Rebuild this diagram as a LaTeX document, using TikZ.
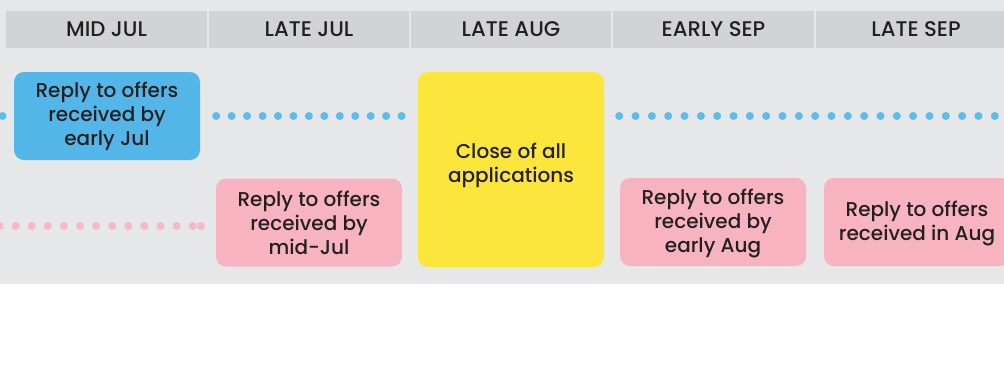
\documentclass[tikz,border=0pt]{standalone}
\usepackage{fontspec}
\setmainfont{Poppins Medium}
\definecolor{bg}{HTML}{E6E7E8}
\definecolor{hdr}{HTML}{D1D3D4}
\definecolor{ink}{HTML}{231F20}
\definecolor{bluebox}{HTML}{52B7E8}
\definecolor{bluedot}{HTML}{5BBDEB}
\definecolor{pinkbox}{HTML}{F8B3C1}
\definecolor{pinkdot}{HTML}{F9B8C5}
\definecolor{yel}{HTML}{FDE63B}
\tikzset{
  hcell/.style={fill=hdr, draw=none, minimum height=37pt, inner sep=0pt, text=ink, font=\fontsize{21.2}{22}\selectfont},
  evbox/.style={rounded corners=10pt, draw=none, minimum width=186pt, inner sep=0pt, text=ink, align=center, font=\fontsize{20}{24}\selectfont},
  bluebx/.style={evbox, fill=bluebox, minimum height=88pt},
  pinkbx/.style={evbox, fill=pinkbox, minimum height=88pt},
  yelbx/.style={evbox, fill=yel, minimum height=195pt},
  bluedots/.style={draw=bluedot, line width=8pt, line cap=round, dash pattern=on 0pt off 15.45pt},
  pinkdots/.style={draw=pinkdot, line width=8pt, line cap=round, dash pattern=on 0pt off 16.1pt},
}
\begin{document}
\begin{tikzpicture}[x=1pt,y=-1pt]
\useasboundingbox (0,0) rectangle (1004,365);
\clip (0,0) rectangle (1004,365);
\fill[white] (0,0) rectangle (1004,365);
\fill[bg] (0,0) rectangle (1004,284);
\fill[white, rounded corners=10pt] (-30,284) rectangle (1004,420);
% header cells
\node[hcell, minimum width=201pt] (h1) at (106.5,29.5) {MID JUL};
\node[hcell, minimum width=200pt] (h2) at (309,29.5) {LATE JUL};
\node[hcell, minimum width=200pt] (h3) at (511,29.5) {LATE AUG};
\node[hcell, minimum width=201pt] (h4) at (713.5,29.5) {EARLY SEP};
\node[hcell, minimum width=200pt] (h5) at (916,29.5) {LATE SEP};
% event boxes
\node[bluebx] (b1) at (107,116) {\rule{0pt}{17pt}Reply to offers\\received by\\early Jul};
\node[yelbx] (y1) at (511,169.5) {Close of all\\applications\\[-11pt]{}};
\node[pinkbx] (p1) at (309,222.5) {Reply to offers\\received by\\mid-Jul};
\node[pinkbx] (p2) at (713,222) {\rule{0pt}{19pt}Reply to offers\\received by\\early Aug};
\node[pinkbx] (p3) at (917,222) {\rule{0pt}{19pt}Reply to offers\\received in Aug};
% dotted connectors
\coordinate (bl) at (2.5,116);
\coordinate (br) at (1003,116);
\coordinate (pl) at (-0.5,226);
\coordinate (pe) at (201,226);
\draw[bluedots] (bl) -- (bl);
\draw[bluedots, shorten <=16pt, shorten >=16pt] (b1.east) -- (y1.west |- b1.east);
\draw[bluedots, dash pattern=on 0pt off 16.33pt, shorten <=15pt] (y1.east |- b1.east) -- (br);
\draw[pinkdots] (pl) -- (pe);
\draw[pinkdots] (pe) -- (p1.west |- pe);
\end{tikzpicture}
\end{document}
